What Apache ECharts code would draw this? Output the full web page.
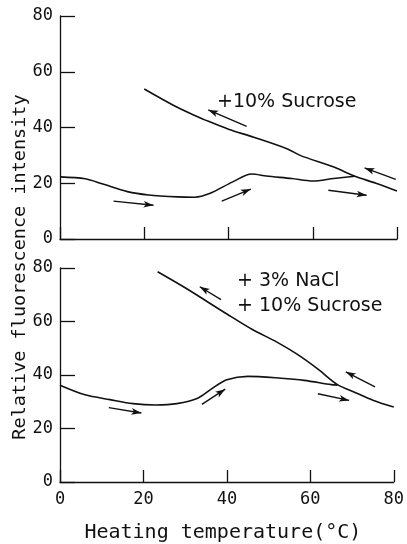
<!DOCTYPE html>
<html>
<head>
<meta charset="utf-8">
<script src="https://cdn.jsdelivr.net/npm/echarts@6/dist/echarts.min.js"></script>
<style>html,body{margin:0;padding:0;background:#fff}#c{width:407px;height:544px}</style>
</head>
<body>
<div id="c"></div>
<script>
var xTicks = [0, 20, 40, 60, 80];
var yTicks = [0, 20, 40, 60, 80];

// Upper panel: +10% Sucrose  [temperature, intensity]
var topHeating = [[0,22.3],[6,21.6],[10,19.8],[16,17],[21,15.8],[28,15.1],[32,15],[35.5,16.3],[41,20.5],[45.5,23.3],[49,22.6],[55,21.7],[60,20.8],[65,21.7],[70,22.5]];
var topCooling = [[80,17.2],[75,20],[70,22.5],[65,25.8],[57,30],[54,32.3],[46,36.5],[40,39.4],[34,43],[32,44.3],[27,47.9],[20,53.8]];
var topArrows = [[[12.7,13.6],[22.2,12.1]],[[38.4,13.6],[45.3,17.9]],[[44.3,40.4],[35.2,46.3]],[[63.7,17.5],[72.8,15.7]],[[79.7,21.4],[72.3,25.5]]];

// Lower panel: +3% NaCl +10% Sucrose
var botHeating = [[0,36.2],[6,32.6],[12,30.8],[17.5,29.3],[23,28.8],[28,29.3],[33,31.3],[36.5,35],[40,38.2],[45,39.5],[53,38.8],[58.5,38],[65,36.4],[66.5,36.2]];
var botCooling = [[80,28],[75,30.6],[71,33.3],[66.5,36.4],[62,42],[57,47.6],[52,52.3],[46,57.1],[40,62.8],[30,72.6],[23.4,78.6]];
var botArrows = [[[11.7,27.8],[19.5,25.8]],[[34.0,29.0],[39.6,34.7]],[[38.6,68.2],[33.5,73.0]],[[61.8,33.0],[69.3,30.5]],[[75.5,35.6],[68.5,41.2]]];

var mono = 'DejaVu Sans Mono';
var ink = '#111';

function xAx(idx, showLabels) {
  return {
    type: 'value', gridIndex: idx, min: xTicks[0], max: xTicks[xTicks.length-1], interval: 20,
    axisLine: {lineStyle: {color: ink, width: 1.3}},
    axisTick: {inside: true, length: 12, lineStyle: {color: ink, width: 1.3}},
    axisLabel: {show: showLabels, color: ink, fontFamily: mono, fontSize: 17, margin: 9},
    splitLine: {show: false},
    name: showLabels ? 'Heating temperature(°C)' : '',
    nameLocation: 'middle', nameGap: 41,
    nameTextStyle: {color: ink, fontFamily: mono, fontSize: 20, padding: [0, 8, 0, 0]}
  };
}
function yAx(idx) {
  return {
    type: 'value', gridIndex: idx, min: yTicks[0], max: yTicks[yTicks.length-1], interval: 20,
    axisLine: {show: true, lineStyle: {color: ink, width: 1.3}},
    axisTick: {show: true, inside: true, length: 15, lineStyle: {color: ink, width: 1.3}},
    axisLabel: {color: ink, fontFamily: mono, fontSize: 17, margin: 7},
    splitLine: {show: false}
  };
}
function arrowLines(arr) {
  return {
    silent: true, animation: false,
    symbol: ['none', 'arrow'], symbolSize: [5, 10],
    lineStyle: {color: ink, width: 1.4, type: 'solid'},
    label: {show: false},
    data: arr.map(function (a) { return [{coord: a[0]}, {coord: a[1]}]; })
  };
}
function curve(idx, data, marks) {
  var s = {
    type: 'line', xAxisIndex: idx, yAxisIndex: idx, data: data,
    smooth: 0.3, showSymbol: false, symbol: 'none',
    lineStyle: {color: ink, width: 1.6}, animation: false, silent: true
  };
  if (marks) s.markLine = arrowLines(marks);
  return s;
}

var chart = echarts.init(document.getElementById('c'), null, {renderer: 'canvas'});
chart.setOption({
  backgroundColor: '#fff',
  animation: false,
  grid: [
    {left: 60, width: 337, top: 16, height: 223},
    {left: 60, width: 337, top: 268, height: 223}
  ],
  xAxis: [xAx(0, false), xAx(1, true)],
  yAxis: [yAx(0), yAx(1)],
  series: [
    curve(0, topHeating, topArrows),
    curve(0, topCooling, null),
    curve(1, botHeating, botArrows),
    curve(1, botCooling, null)
  ],
  graphic: [
    {type: 'text', x: 20, y: 267, rotation: Math.PI / 2,
     style: {text: 'Relative fluorescence intensity', fill: ink, font: '18.5px "DejaVu Sans Mono"', textAlign: 'center', textVerticalAlign: 'middle'}},
    {type: 'text', x: 217, y: 102,
     style: {text: '+10% Sucrose', fill: ink, font: '19px "DejaVu Sans"', textAlign: 'left', textVerticalAlign: 'middle'}},
    {type: 'text', x: 237, y: 281,
     style: {text: '+ 3% NaCl', fill: ink, font: '19px "DejaVu Sans"', textAlign: 'left', textVerticalAlign: 'middle'}},
    {type: 'text', x: 237, y: 306,
     style: {text: '+ 10% Sucrose', fill: ink, font: '19px "DejaVu Sans"', textAlign: 'left', textVerticalAlign: 'middle'}}
  ]
});
</script>
</body>
</html>
